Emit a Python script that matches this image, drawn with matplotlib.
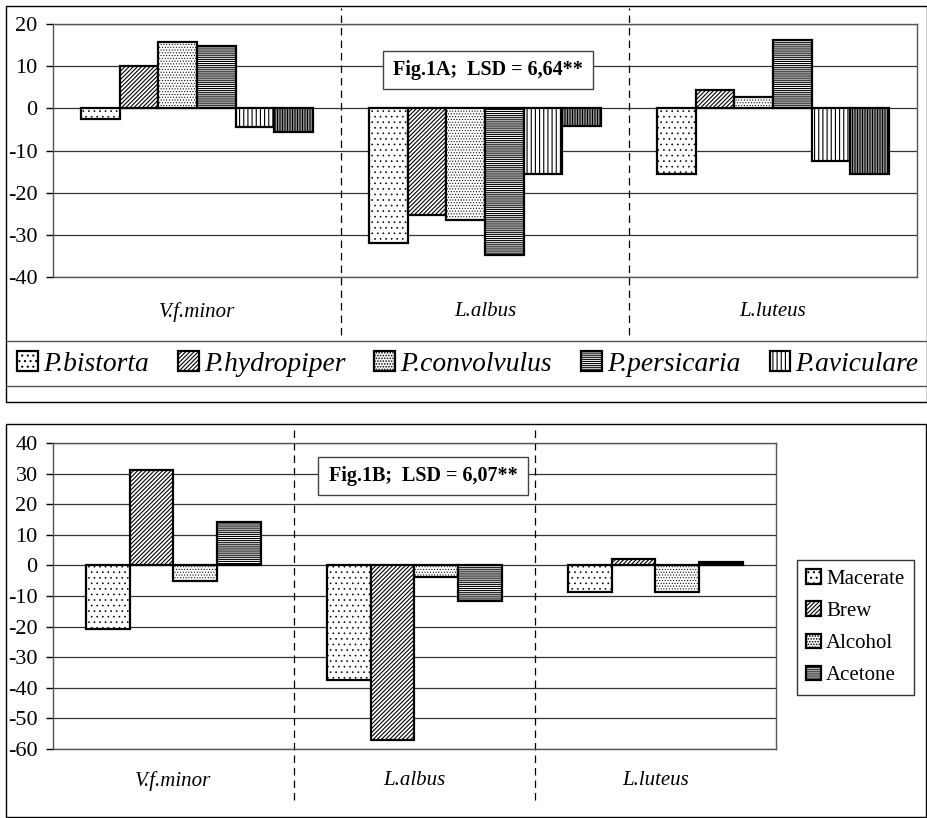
import matplotlib
matplotlib.use('Agg')
import matplotlib.pyplot as plt
from matplotlib.patches import Rectangle
from matplotlib.lines import Line2D
import numpy as np

plt.rcParams['font.family'] = ['Liberation Serif', 'DejaVu Serif']
plt.rcParams['axes.unicode_minus'] = False
plt.rcParams['hatch.linewidth'] = 0.8

W, H = 928, 818

categories = ['V.f.minor', 'L.albus', 'L.luteus']

# Fig.1A - weeds
weeds = ['P.bistorta', 'P.hydropiper', 'P.convolvulus', 'P.persicaria', 'P.aviculare', '_nolegend_']
bistorta = [-2.5, -32.0, -15.6]
hydropiper = [10.0, -25.2, 4.4]
convolvulus = [15.8, -26.6, 2.6]
persicaria = [14.9, -34.9, 16.3]
aviculare = [-4.5, -15.6, -12.5]
sixth = [-5.5, -4.3, -15.6]
weed_values = [bistorta, hydropiper, convolvulus, persicaria, aviculare, sixth]
weed_hatches = ['...', '////////', '......', '--------', '||||', '||||||||||']

# Fig.1B - extracts
extracts = ['Macerate', 'Brew', 'Alcohol', 'Acetone']
macerate = [-20.9, -37.5, -8.7]
brew = [31.3, -56.9, 2.2]
alcohol = [-5.1, -3.8, -8.7]
acetone = [14.2, -11.6, 1.0]
extract_values = [macerate, brew, alcohol, acetone]
extract_hatches = ['...', '////////', '......', '--------']


def fx(x):
    return x / W


def fy(y):
    return 1 - y / H


def draw_bars(ax, values, labels, hatches, w):
    x = np.arange(len(categories))
    n = len(values)
    for i, vals in enumerate(values):
        off = (i - (n - 1) / 2) * w
        # thinner strokes for the dotted fills
        plt.rcParams['hatch.linewidth'] = 0.45 if '.' in hatches[i] else 0.8
        ax.bar(x + off, vals, w, facecolor='white', edgecolor='black',
               linewidth=1.6, hatch=hatches[i], label=labels[i], zorder=3)
    ax.set_xlim(-0.5, 2.5)
    ax.set_xticks(x)
    ax.set_xticklabels(categories, style='italic', fontsize=15)
    ax.grid(axis='y', color='#333333', lw=0.9, zorder=0)
    ax.set_axisbelow(True)
    for s in ax.spines.values():
        s.set_color('#555555')
        s.set_linewidth(1)
    ax.tick_params(axis='y', length=5, width=1, labelsize=16, pad=6)


fig = plt.figure(figsize=(W / 100, H / 100), dpi=100)

# outer frames
fig.add_artist(Rectangle((fx(6), fy(402)), fx(921), 396 / H, transform=fig.transFigure,
                         fill=False, ec='black', lw=1))
fig.add_artist(Rectangle((fx(6), fy(817)), fx(920), 393 / H, transform=fig.transFigure,
                         fill=False, ec='black', lw=1))

# --- top chart
ax1 = fig.add_axes([fx(53), fy(277), fx(864), 253 / H])
draw_bars(ax1, weed_values, weeds, weed_hatches, 0.1337)
ax1.set_ylim(-40, 20)
ax1.set_yticks(range(-40, 21, 10))
ax1.tick_params(axis='x', length=0, pad=18)
ax1.vlines([0.5, 1.5], -0.229, 1.063, transform=ax1.get_xaxis_transform(), clip_on=False,
           colors='black', linestyles=(0, (6, 4)), lw=0.9)

fig.add_artist(Rectangle((fx(383), fy(89)), fx(210), 38 / H, transform=fig.transFigure,
                         fc='white', ec='#444444', lw=1, zorder=5))
fig.text(fx(488), fy(70), 'Fig.1A;  LSD = 6,64**', ha='center', va='center',
         fontweight='bold', fontsize=14.5, zorder=6)

for yy in (341, 386):
    fig.add_artist(Line2D([fx(6), 1], [fy(yy), fy(yy)], transform=fig.transFigure,
                          color='#555555', lw=1))
fig.legend(*ax1.get_legend_handles_labels(), loc='center', bbox_to_anchor=(fx(468), fy(364)),
           ncol=5, frameon=False, prop={'style': 'italic', 'size': 19.8},
           handlelength=0.75, handleheight=0.75, handletextpad=0.2, columnspacing=1.05)

# --- bottom chart
ax2 = fig.add_axes([fx(53), fy(749), fx(723), 306 / H])
draw_bars(ax2, extract_values, extracts, extract_hatches, 0.182)
ax2.set_ylim(-60, 40)
ax2.set_yticks(range(-60, 41, 10))
ax2.tick_params(axis='x', length=0, pad=16)
ax2.vlines([0.5, 1.5], -0.167, 1.049, transform=ax2.get_xaxis_transform(), clip_on=False,
           colors='black', linestyles=(0, (6, 4)), lw=0.9)

fig.add_artist(Rectangle((fx(318), fy(495)), fx(210), 38 / H, transform=fig.transFigure,
                         fc='white', ec='#444444', lw=1, zorder=5))
fig.text(fx(423), fy(476), 'Fig.1B;  LSD = 6,07**', ha='center', va='center',
         fontweight='bold', fontsize=14.5, zorder=6)

leg = ax2.legend(loc='upper left', bbox_to_anchor=(fx(797), fy(560)), bbox_transform=fig.transFigure,
                 fontsize=15, frameon=True, fancybox=False, edgecolor='black',
                 handlelength=0.7, handleheight=0.7, labelspacing=0.6, borderpad=0.45,
                 handletextpad=0.25, borderaxespad=0)
leg.get_frame().set_linewidth(1)

fig.savefig('out.png', dpi=100)
